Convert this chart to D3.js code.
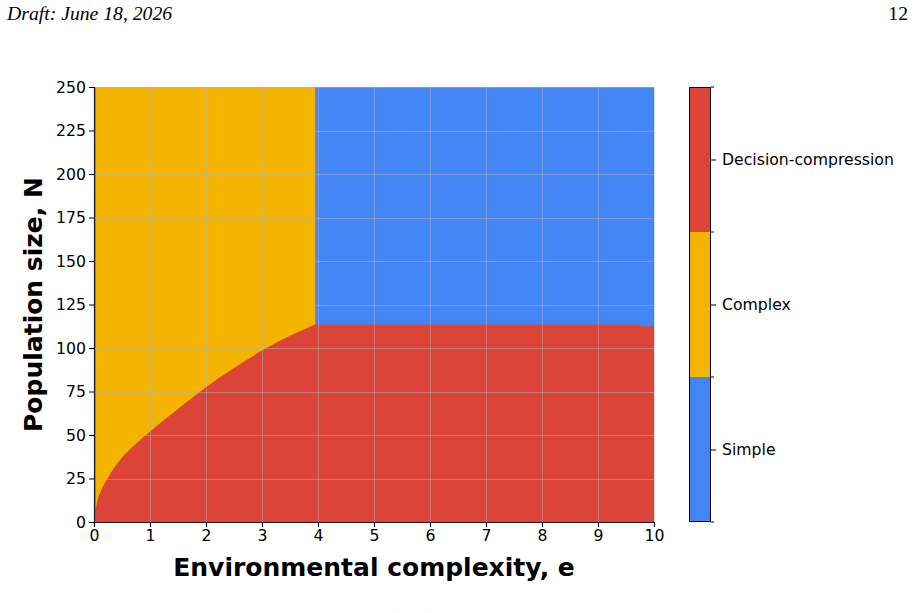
<!DOCTYPE html>
<html><head><meta charset="utf-8">
<script src="https://cdn.jsdelivr.net/npm/d3@7"></script>
<style>body{margin:0;background:#fff}svg{display:block}</style>
</head><body>
<script>
// ---- data ----
const categories = ["Simple", "Complex", "Decision-compression"];
const categoryColors = ["#4285F4", "#F4B400", "#DB4437"];
const xTicks = [0,1,2,3,4,5,6,7,8,9,10];
const yTicks = [0,25,50,75,100,125,150,175,200,225,250];
// first column (e = 0) : Decision-compression below this N, Simple above
const firstColumnE = [0, 0.03];
const firstColumnN = 8;
// Complex / Decision-compression boundary (e, N)
const boundaryE = [0.03, 0.06, 0.125, 0.25, 0.5, 0.75, 1, 1.5, 2, 2.5, 3, 3.5, 3.95];
const boundaryN = [7, 12, 18, 25.5, 37, 45, 52, 65, 77.5, 88.5, 98.5, 107, 113.5];
// Simple / Decision-compression plateau (e, N)
const plateauE = [3.95, 9.75, 9.75, 10];
const plateauN = [113.5, 113.5, 112.5, 112.5];
// Complex / Simple vertical boundary
const complexStartE = 0.03;
const complexEndE = 3.95;

const W = 916, H = 613;
const svg = d3.select("body").append("svg").attr("width", W).attr("height", H);

const x = d3.scaleLinear().domain([0, 10]).range([94, 654]);
const y = d3.scaleLinear().domain([0, 250]).range([522, 87]);

// header
svg.append("text").attr("x", 7).attr("y", 20)
  .style("font-family", "'Liberation Serif', serif").style("font-style", "italic").style("font-size", "19.7px")
  .text("Draft: June 18, 2026");
svg.append("text").attr("x", 908).attr("y", 20).attr("text-anchor", "end")
  .style("font-family", "'Liberation Serif', serif").style("font-size", "19.7px")
  .text("12");

// regions
const g = svg.append("g");
g.append("rect").attr("x", x(0)).attr("y", y(250)).attr("width", x(10) - x(0)).attr("height", y(0) - y(250))
  .attr("fill", categoryColors[0]);
g.append("rect").attr("x", x(complexStartE)).attr("y", y(250)).attr("width", x(complexEndE) - x(complexStartE)).attr("height", y(0) - y(250))
  .attr("fill", categoryColors[1]);
g.append("rect").attr("x", x(firstColumnE[0])).attr("y", y(firstColumnN)).attr("width", x(firstColumnE[1]) - x(firstColumnE[0]) + 0.5)
  .attr("height", y(0) - y(firstColumnN)).attr("fill", categoryColors[2]);
const curvePts = boundaryE.map((e, i) => [e, boundaryN[i]]);
const platPts = plateauE.map((e, i) => [e, plateauN[i]]);
g.append("path").datum(curvePts)
  .attr("d", d3.area().x(d => x(d[0])).y0(y(0)).y1(d => y(d[1])).curve(d3.curveMonotoneX))
  .attr("fill", categoryColors[2]);
g.append("path").datum(platPts)
  .attr("d", d3.area().x(d => x(d[0])).y0(y(0)).y1(d => y(d[1])))
  .attr("fill", categoryColors[2]);

// grid
const grid = svg.append("g").attr("stroke", "#b0b0b0").attr("stroke-opacity", 0.5).attr("stroke-width", 1);
xTicks.forEach(t => grid.append("line").attr("x1", Math.round(x(t)) + 0.5).attr("x2", Math.round(x(t)) + 0.5).attr("y1", y(0)).attr("y2", y(250)));
yTicks.forEach(t => grid.append("line").attr("y1", Math.round(y(t)) + 0.5).attr("y2", Math.round(y(t)) + 0.5).attr("x1", x(0)).attr("x2", x(10)));

// axes
const font = "'DejaVu Sans', sans-serif";
const tickFont = "15.7px";
const xAxis = svg.append("g").attr("transform", `translate(0,${y(0)})`)
  .call(d3.axisBottom(x).tickValues(xTicks).tickFormat(d3.format("d")).tickSize(5).tickPadding(3));
const yAxis = svg.append("g").attr("transform", `translate(${x(0)},0)`)
  .call(d3.axisLeft(y).tickValues(yTicks).tickFormat(d3.format("d")).tickSize(5).tickPadding(3));
[xAxis, yAxis].forEach(a => {
  a.selectAll("text").style("font-family", font).style("font-size", tickFont).attr("fill", "#000");
  a.selectAll("line").attr("stroke", "#000");
  a.select(".domain").attr("stroke", "#1a1a2e").attr("stroke-width", 1.2);
});

svg.append("text").attr("x", (x(0) + x(10)) / 2).attr("y", 576).attr("text-anchor", "middle")
  .style("font-family", font).style("font-weight", "bold").style("font-size", "25px")
  .text("Environmental complexity, e");
svg.append("text").attr("transform", `translate(42,${(y(0) + y(250)) / 2}) rotate(-90)`).attr("text-anchor", "middle")
  .style("font-family", font).style("font-weight", "bold").style("font-size", "25px")
  .text("Population size, N");

// colorbar
const cb = d3.scaleLinear().domain([0, 3]).range([522, 87]);
const cbX = 689, cbW = 22;
const cbg = svg.append("g");
categories.forEach((c, i) => {
  cbg.append("rect").attr("x", cbX).attr("y", cb(i + 1)).attr("width", cbW).attr("height", cb(i) - cb(i + 1))
    .attr("fill", categoryColors[i]);
});
cbg.append("rect").attr("x", cbX + 0.5).attr("y", cb(3) + 0.5).attr("width", cbW - 1).attr("height", cb(0) - cb(3) - 1)
  .attr("fill", "none").attr("stroke", "#000").attr("stroke-width", 1);
const cbAxis = svg.append("g").attr("transform", `translate(${cbX + cbW},0)`)
  .call(d3.axisRight(cb).tickValues([0.5, 1.5, 2.5]).tickFormat((d, i) => categories[i]).tickSize(5).tickPadding(6));
cbAxis.select(".domain").remove();
cbAxis.selectAll("text").style("font-family", font).style("font-size", tickFont).attr("fill", "#000");
cbAxis.selectAll("line").attr("stroke", "#000");
[0, 1, 2, 3].forEach(v => cbg.append("line").attr("x1", cbX + cbW).attr("x2", cbX + cbW + 3)
  .attr("y1", cb(v)).attr("y2", cb(v)).attr("stroke", "#000"));

// caption at bottom, clipped by the page edge as in the reference
svg.append("text").attr("x", 410).attr("y", 626).attr("text-anchor", "middle")
  .style("font-family", "'Liberation Serif', serif").style("font-size", "18px").text("(e, N)");
</script>
</body></html>
